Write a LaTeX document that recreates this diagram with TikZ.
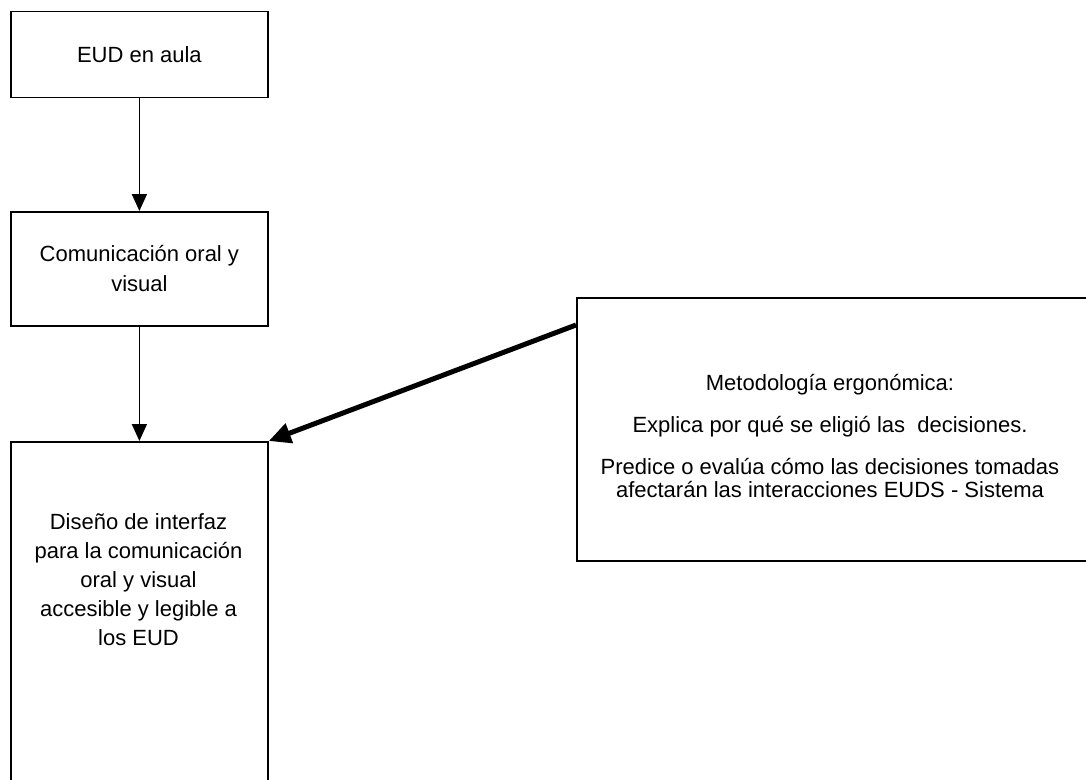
\documentclass[tikz,border=0pt]{standalone}
\usepackage{fontspec}
\setmainfont{Liberation Sans}
\usetikzlibrary{arrows.meta}
\begin{document}
\begin{tikzpicture}[x=1pt,y=-1pt,
  box/.style={draw=black,line width=1.8pt,fill=white,inner sep=0pt,anchor=north west},
  txt/.style={align=center,inner sep=0pt,font=\fontsize{22}{29}\selectfont},
  conn/.style={line width=1.8pt,-{Triangle[width=15pt,length=17pt]}},
  bigarrow/.style={line width=5pt,-{Triangle[width=20pt,length=22pt]}}]
\useasboundingbox (0,0) rectangle (1086,779);
% boxes
\node[box,minimum width=257pt,minimum height=86pt,txt] (b1) at (10,10.5) {EUD en aula};
\node[box,minimum width=257pt,minimum height=114pt,txt,font=\fontsize{22}{30}\selectfont] (b2) at (10,211) {Comunicación oral y\\visual};
\node[box,minimum width=257pt,minimum height=400pt] (b3) at (10,441) {};
\node[box,minimum width=520pt,minimum height=263pt] (b4) at (576,297) {};
% texts
\node[txt] (t3) at (138.5,580) {Diseño de interfaz\\para la comunicación\\oral y visual\\accesible y legible a\\los EUD};
\node[txt,font=\fontsize{22}{22}\selectfont] (t4) at (830,436) {Metodología ergonómica:\\[20pt]Explica por qué se eligió las\ \ decisiones.\\[20pt]Predice o evalúa cómo las decisiones tomadas\\afectarán las interacciones EUDS - Sistema};
% connectors
\draw[conn] (b1.south) -- (b2.north);
\draw[conn] (b2.south) -- (b3.north);
\draw[bigarrow] ([yshift=-28pt]b4.north west) -- (b3.north east);
\end{tikzpicture}
\end{document}
